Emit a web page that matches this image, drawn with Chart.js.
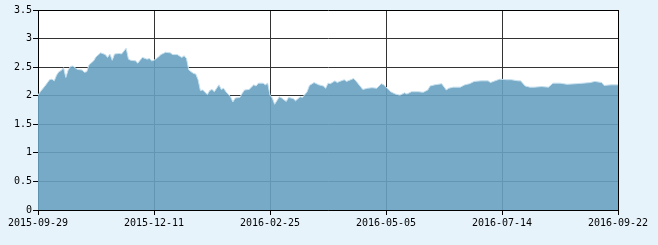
<!DOCTYPE html>
<html>
<head>
<meta charset="utf-8">
<script src="https://cdn.jsdelivr.net/npm/chart.js@4/dist/chart.umd.min.js"></script>
<style>
html,body{margin:0;padding:0;background:#e7f3fb;}
#wrap{width:658px;height:245px;}
</style>
</head>
<body>
<div id="wrap"><canvas id="c" width="658" height="245"></canvas></div>
<script>
// trading-day index (0 = 2015-09-29, 250 = 2016-09-22)
const days = [0,1,3,5,6,7,8,9,10,11,12,13,14,15,17,19,20,21,22,24,25,27,29,30,31,32,33,35,36,38,39,40,42,43,44,45,47,48,49,50,52,53,55,57,58,60,62,63,64,65,67,68,69,70,71,73,74,75,76,78,79,80,81,83,84,85,87,88,89,91,93,94,95,97,98,99,100,101,102,104,105,107,108,110,111,113,114,116,117,119,121,123,124,125,126,128,129,130,132,133,136,137,138,140,142,144,146,148,149,150,152,154,156,158,159,161,164,166,168,169,171,174,176,177,179,182,184,186,188,191,194,195,197,199,202,204,207,208,210,212,214,217,220,222,225,228,232,235,238,240,243,244,247,250];
const values = [2.01,2.07,2.17,2.28,2.29,2.26,2.36,2.42,2.44,2.49,2.32,2.45,2.51,2.52,2.46,2.45,2.41,2.42,2.54,2.61,2.68,2.75,2.72,2.67,2.73,2.62,2.73,2.74,2.73,2.83,2.64,2.62,2.61,2.57,2.62,2.67,2.64,2.65,2.61,2.62,2.68,2.72,2.76,2.75,2.72,2.72,2.67,2.70,2.65,2.45,2.39,2.38,2.28,2.09,2.10,2.02,2.09,2.11,2.07,2.19,2.11,2.13,2.07,1.98,1.89,1.96,1.97,2.04,2.10,2.11,2.19,2.17,2.22,2.22,2.19,2.22,2.01,1.96,1.85,1.98,1.96,1.90,1.97,1.95,1.91,1.98,1.97,2.07,2.18,2.23,2.19,2.17,2.13,2.22,2.21,2.26,2.23,2.25,2.28,2.25,2.30,2.26,2.21,2.11,2.13,2.14,2.13,2.21,2.19,2.15,2.07,2.03,2.01,2.05,2.03,2.07,2.07,2.06,2.10,2.17,2.19,2.21,2.10,2.13,2.15,2.15,2.19,2.21,2.25,2.26,2.26,2.23,2.26,2.29,2.28,2.28,2.26,2.26,2.17,2.15,2.15,2.16,2.15,2.22,2.22,2.20,2.21,2.22,2.23,2.25,2.23,2.18,2.19,2.19];
const tickLabels = ['2015-09-29','2015-12-11','2016-02-25','2016-05-05','2016-07-14','2016-09-22'];
const yTicks = [0,0.5,1,1.5,2,2.5,3,3.5];

const points = days.map((d,i)=>({x:d,y:values[i]}));

const bgPlugin = {
  id:'bg',
  beforeDraw(chart){
    const {ctx, chartArea:a} = chart;
    ctx.save();
    ctx.fillStyle = '#e7f3fb';
    ctx.fillRect(0,0,chart.width,chart.height);
    ctx.fillStyle = '#ffffff';
    ctx.fillRect(a.left,a.top,a.right-a.left,a.bottom-a.top);
    ctx.restore();
  }
};

const font = {family:'"DejaVu Sans Mono", monospace', size:10};

new Chart(document.getElementById('c'), {
  type:'line',
  data:{datasets:[{
    data: points,
    fill:'origin',
    backgroundColor:'rgba(103,161,192,0.9)',
    borderColor:'#c6e0ef',
    borderWidth:1,
    pointRadius:0,
    tension:0
  }]},
  options:{
    responsive:false,
    animation:false,
    layout:{padding:{top:10,right:40,left:0,bottom:0}},
    plugins:{legend:{display:false},tooltip:{enabled:false}},
    scales:{
      x:{
        type:'linear',
        min:0,max:250,
        afterBuildTicks(s){ s.ticks = tickLabels.map((_,i)=>({value:i*50})); },
        afterFit(s){ s.height = 35; },
        ticks:{
          font, color:'#000', padding:2, maxRotation:0, autoSkip:false,
          callback:(v)=>tickLabels[Math.round(v/50)]
        },
        grid:{
          color:(c)=> (c.index===0||c.index===5)?'#000':'#333',
          tickColor:'#000', tickLength:5, lineWidth:1
        },
        border:{color:'#000',width:1}
      },
      y:{
        min:0,max:3.5,
        afterBuildTicks(s){ s.ticks = yTicks.map(v=>({value:v})); },
        afterFit(s){ s.width = 38; },
        ticks:{font, color:'#000', padding:1, callback:(v)=>String(v)},
        grid:{
          color:(c)=> (c.index===7)?'#000':'#333',
          tickColor:'#000', tickLength:5, lineWidth:1
        },
        border:{color:'#000',width:1}
      }
    }
  },
  plugins:[bgPlugin]
});
</script>
</body>
</html>
